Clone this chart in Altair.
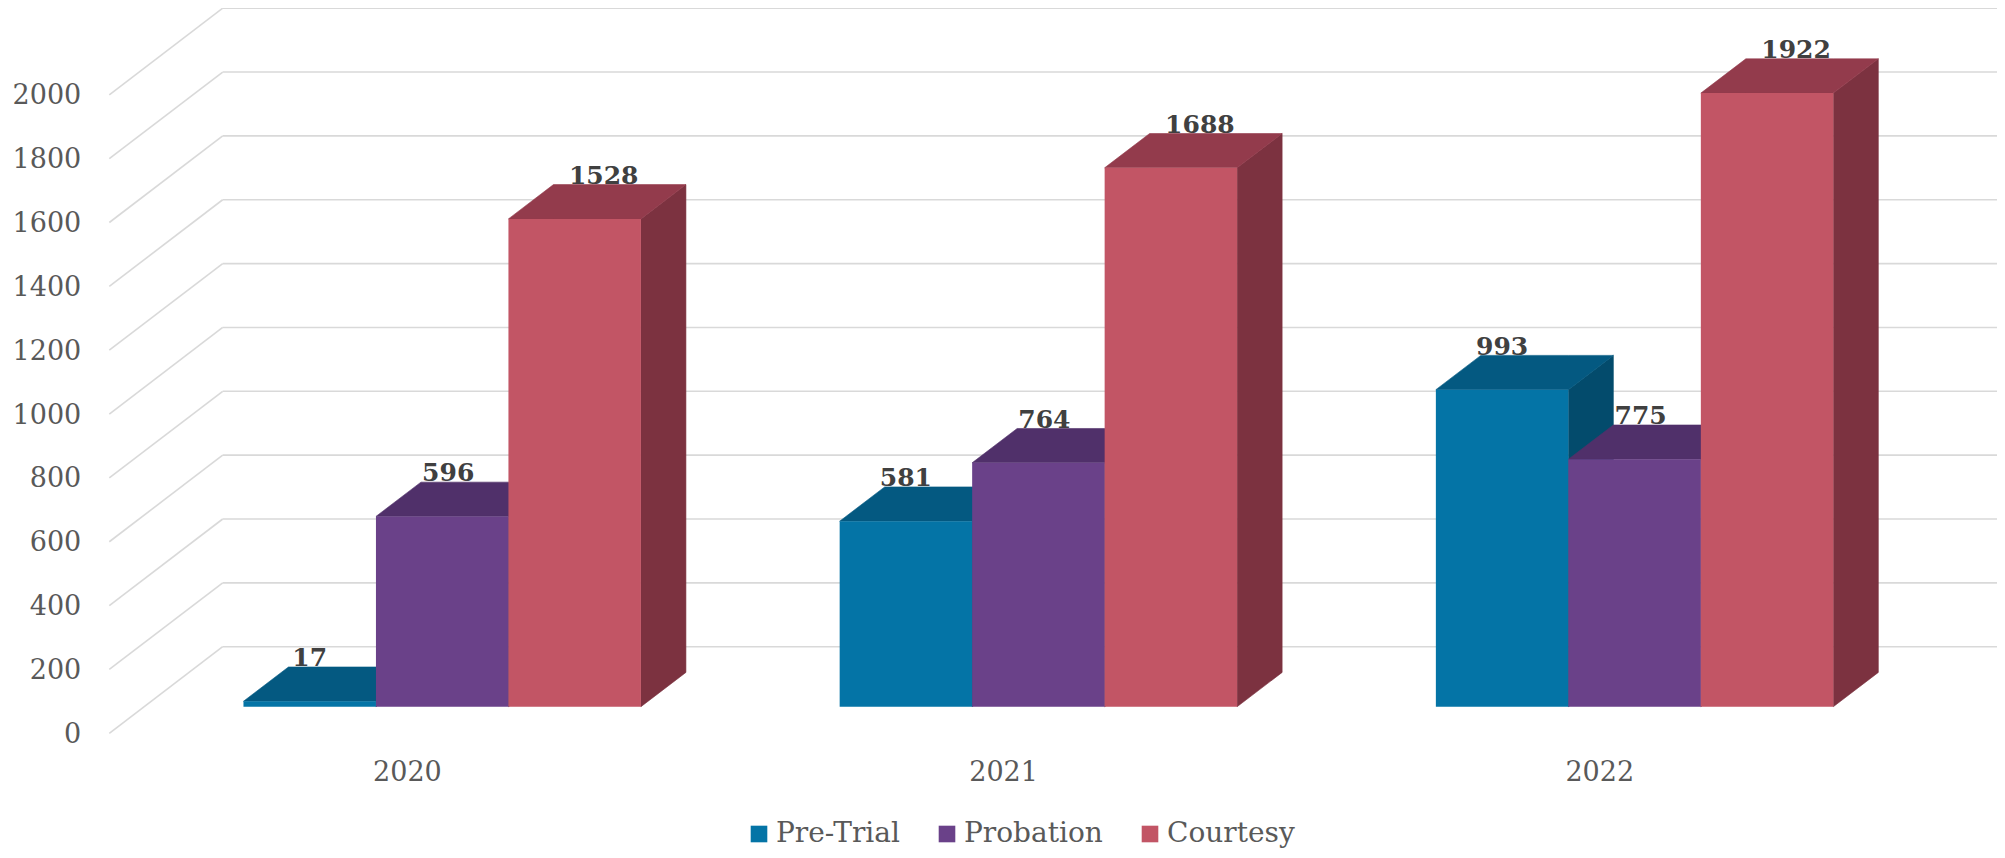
import altair as alt
import pandas as pd

# ---------------- data ----------------
years = ["2020", "2021", "2022"]
series = ["Pre-Trial", "Probation", "Courtesy"]
pretrial = [17, 581, 993]
probation = [596, 764, 775]
courtesy = [1528, 1688, 1922]
y_ticks = [0, 200, 400, 600, 800, 1000, 1200, 1400, 1600, 1800, 2000]

# ---------------- style ----------------
front_colors = ["#0474A6", "#6A4189", "#C25565"]
top_colors = ["#045981", "#50306A", "#933B4C"]
side_colors = ["#034B6C", "#43285A", "#7C3240"]
label_nudge = {"Pre-Trial": 0, "Probation": 6, "Courtesy": 29}
FONT = "DejaVu Serif"
GRID = "#D9D9D9"

W, H = 1989, 842
BAND_PX = 596.2        # width of one year band (px)
X0_PX = 136.1          # view x where band 0 starts (bar plane)
BASE_PX = 698.7        # view y of value 0 (bar plane)
PX_PER_UNIT = 0.31925  # px per value unit

x_domain = [-X0_PX / BAND_PX, (W - X0_PX) / BAND_PX]
y_domain = [(BASE_PX - H) / PX_PER_UNIT, BASE_PX / PX_PER_UNIT]


def px_x(p):
    return p / BAND_PX


def px_y(p):
    return p / PX_PER_UNIT


DEPTH_DX, DEPTH_DY = px_x(45.0), px_y(34.3)
FRONT_DX, FRONT_DY = px_x(-34.8), px_y(-26.6)
BACK_DX, BACK_DY = px_x(78.6), px_y(60.0)
BAR_W = 2 / 9
GROUP_PAD = 1 / 6

xs = alt.Scale(domain=x_domain, nice=False, zero=False)
ys = alt.Scale(domain=y_domain, nice=False, zero=False)


def X(f="x"):
    return alt.X(f"{f}:Q", scale=xs, axis=None)


def Y(f="y"):
    return alt.Y(f"{f}:Q", scale=ys, axis=None, stack=None)


values = [pretrial, probation, courtesy]

front_rows, top_rows, side_rows, label_rows = [], [], [], []
for g, yr in enumerate(years):
    for s, name in enumerate(series):
        v = values[s][g]
        x0 = g + GROUP_PAD + s * BAR_W
        x1 = x0 + BAR_W
        bid = f"{yr}-{name}"
        front_rows.append({"x": x0, "x2": x1, "y": 0, "y2": v, "series": name})
        top_rows += [
            {"bar": bid, "x": x0, "y": v, "y2": v, "fill": top_colors[s]},
            {"bar": bid, "x": x0 + DEPTH_DX, "y": v, "y2": v + DEPTH_DY, "fill": top_colors[s]},
            {"bar": bid, "x": x1, "y": v, "y2": v + DEPTH_DY, "fill": top_colors[s]},
            {"bar": bid, "x": x1 + DEPTH_DX, "y": v + DEPTH_DY, "y2": v + DEPTH_DY, "fill": top_colors[s]},
        ]
        side_rows += [
            {"bar": bid, "x": x1, "y": 0, "y2": v, "fill": side_colors[s]},
            {"bar": bid, "x": x1 + DEPTH_DX, "y": DEPTH_DY, "y2": v + DEPTH_DY, "fill": side_colors[s]},
        ]
        label_rows.append({"x": (x0 + x1) / 2 + px_x(label_nudge[name]), "y": v, "text": str(v)})

grid_rows = []
for t in y_ticks:
    grid_rows.append({"x": FRONT_DX, "y": t + FRONT_DY, "x2": BACK_DX, "y2": t + BACK_DY})
    grid_rows.append({"x": BACK_DX, "y": t + BACK_DY, "x2": x_domain[1] + 1, "y2": t + BACK_DY})

tick_rows = [{"x": FRONT_DX, "y": t + FRONT_DY, "text": str(t)} for t in y_ticks]
year_rows = [{"x": g + 0.5 + FRONT_DX, "y": FRONT_DY, "text": yr} for g, yr in enumerate(years)]

grid = alt.Chart(pd.DataFrame(grid_rows)).mark_rule(
    color=GRID, strokeWidth=1.6, clip=True
).encode(x=X(), y=Y(), x2="x2:Q", y2="y2:Q")

sides = alt.Chart(pd.DataFrame(side_rows)).mark_area(opacity=1, strokeWidth=0.6).encode(
    x=X(), y=Y(), y2="y2:Q", detail="bar:N",
    color=alt.Color("fill:N", scale=None), stroke=alt.Stroke("fill:N", scale=None),
)

tops = alt.Chart(pd.DataFrame(top_rows)).mark_area(opacity=1, strokeWidth=0.6).encode(
    x=X(), y=Y(), y2="y2:Q", detail="bar:N",
    color=alt.Color("fill:N", scale=None), stroke=alt.Stroke("fill:N", scale=None),
)

fronts = alt.Chart(pd.DataFrame(front_rows)).mark_rect(opacity=1).encode(
    x=X(), x2="x2:Q", y=Y(), y2="y2:Q",
    color=alt.Color(
        "series:N",
        scale=alt.Scale(domain=series, range=front_colors),
        legend=alt.Legend(
            title=None, orient="none", legendX=737, legendY=812,
            direction="horizontal", symbolType="square", symbolSize=276,
            symbolStrokeWidth=0, labelFont=FONT, labelFontSize=28,
            labelColor="#595959", labelOffset=3, columnPadding=33, padding=0,
        ),
    ),
)

labels = alt.Chart(pd.DataFrame(label_rows)).mark_text(
    font=FONT, fontSize=25, fontWeight="bold", color="#404040",
    baseline="alphabetic", align="center", dy=-35,
).encode(x=X(), y=Y(), text="text:N")

ticks = alt.Chart(pd.DataFrame(tick_rows)).mark_text(
    font=FONT, fontSize=27, color="#595959", align="right", baseline="middle", dx=-28, dy=1.5,
).encode(x=X(), y=Y(), text="text:N")

year_labels = alt.Chart(pd.DataFrame(year_rows)).mark_text(
    font=FONT, fontSize=27, color="#595959", align="center", baseline="middle", dy=40,
).encode(x=X(), y=Y(), text="text:N")

chart = alt.layer(grid, sides, tops, fronts, labels, ticks, year_labels).properties(
    width=W, height=H, autosize=alt.AutoSizeParams(type="none"), padding=0,
).configure_view(stroke=None)

chart.save("out.html", embed_options={"renderer": "svg", "actions": False})
